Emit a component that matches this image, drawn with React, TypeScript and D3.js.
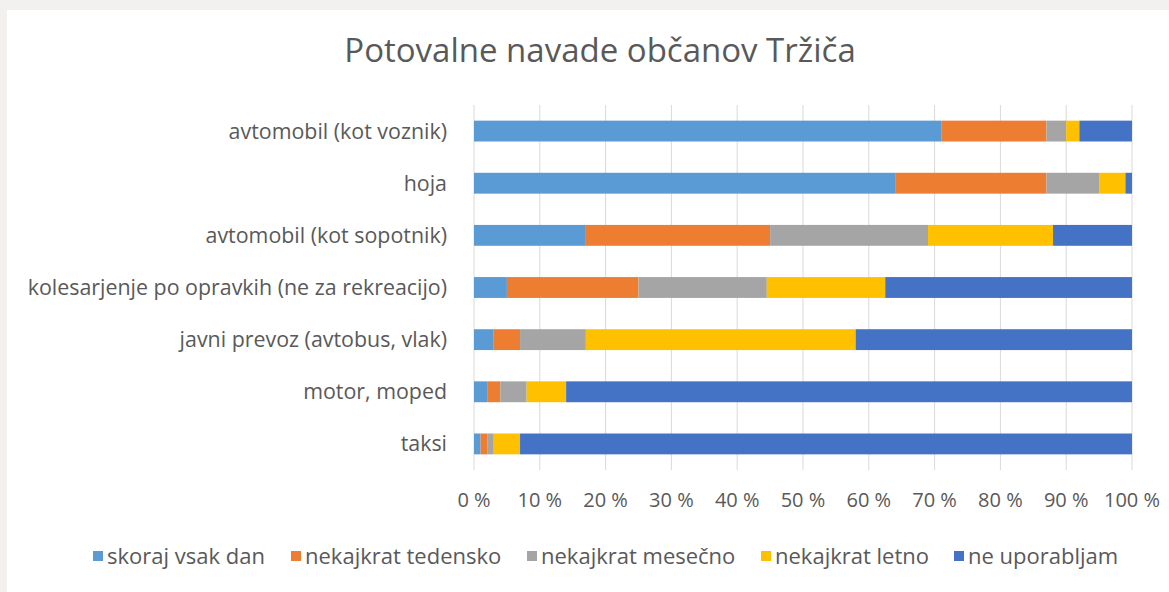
import React from "react";
import * as d3 from "d3";

const categories = [
  "avtomobil (kot voznik)",
  "hoja",
  "avtomobil (kot sopotnik)",
  "kolesarjenje po opravkih (ne za rekreacijo)",
  "javni prevoz (avtobus, vlak)",
  "motor, moped",
  "taksi",
];

const seriesNames = [
  "skoraj vsak dan",
  "nekajkrat tedensko",
  "nekajkrat mesečno",
  "nekajkrat letno",
  "ne uporabljam",
];

// percentages per category, same order as seriesNames
const skorajVsakDan = [71, 64, 17, 5, 3, 2, 1];
const nekajkratTedensko = [16, 23, 28, 20, 4, 2, 1];
const nekajkratMesecno = [3, 8, 24, 19.5, 10, 4, 1];
const nekajkratLetno = [2, 4, 19, 18, 41, 6, 4];
const neUporabljam = [8, 1, 12, 37.5, 42, 86, 93];

const tickValues = [0, 10, 20, 30, 40, 50, 60, 70, 80, 90, 100];

const colors = ["#5b9bd5", "#ed7d31", "#a5a5a5", "#ffc000", "#4472c4"];

const W = 1169;
const H = 592;
const font = "'Open Sans', 'DejaVu Sans', sans-serif";
const textColor = "#595959";

export default function App() {
  const margin = { left: 474, right: 37, top: 105, bottom: 122 };

  const rows = categories.map((c, i) => ({
    name: c,
    [seriesNames[0]]: skorajVsakDan[i],
    [seriesNames[1]]: nekajkratTedensko[i],
    [seriesNames[2]]: nekajkratMesecno[i],
    [seriesNames[3]]: nekajkratLetno[i],
    [seriesNames[4]]: neUporabljam[i],
  }));

  const stack = d3.stack<any>().keys(seriesNames);
  const layers = stack(rows);

  const x = d3
    .scaleLinear()
    .domain([0, 100])
    .range([margin.left, W - margin.right]);

  const y = d3
    .scaleBand()
    .domain(categories)
    .range([margin.top, H - margin.bottom])
    .paddingInner(0.6)
    .paddingOuter(0.3);

  const color = d3.scaleOrdinal<string, string>().domain(seriesNames).range(colors);

  // legend layout (x of each swatch)
  const legendX = [93, 291, 527, 761, 954];
  const legendY = 556;

  return (
    <div style={{ position: "absolute", left: 0, top: 0 }}>
      <svg width={W} height={H} style={{ display: "block" }}>
        <rect x={0} y={0} width={W} height={H} fill="#f2f1ef" />
        <rect x={7} y={10} width={W - 7} height={H - 10} fill="#ffffff" />

        <text
          x={600}
          y={62}
          textAnchor="middle"
          fontFamily={font}
          fontSize={33}
          fill={textColor}
        >
          Potovalne navade občanov Tržiča
        </text>

        {/* gridlines */}
        {tickValues.map((t) => (
          <line
            key={t}
            x1={x(t)}
            x2={x(t)}
            y1={margin.top}
            y2={H - margin.bottom}
            stroke="#d9d9d9"
            strokeWidth={1}
          />
        ))}

        {/* bars */}
        {layers.map((layer) => (
          <g key={layer.key} fill={color(layer.key)}>
            {layer.map((d: any) => (
              <rect
                key={d.data.name}
                x={x(d[0])}
                y={y(d.data.name)}
                width={Math.max(0, x(d[1]) - x(d[0]))}
                height={y.bandwidth()}
              />
            ))}
          </g>
        ))}

        {/* category labels */}
        {categories.map((c) => (
          <text
            key={c}
            x={margin.left - 27}
            y={(y(c) as number) + y.bandwidth() / 2}
            dy="0.35em"
            textAnchor="end"
            fontFamily={font}
            fontSize={21.4}
            fill={textColor}
          >
            {c}
          </text>
        ))}

        {/* x tick labels */}
        {tickValues.map((t) => (
          <text
            key={t}
            x={x(t)}
            y={H - margin.bottom + 37}
            textAnchor="middle"
            fontFamily={font}
            fontSize={20}
            fill={textColor}
          >
            {`${t} %`}
          </text>
        ))}

        {/* legend */}
        {seriesNames.map((s, i) => (
          <g key={s} transform={`translate(${legendX[i]},${legendY})`}>
            <rect x={0} y={-5} width={10} height={10} fill={color(s)} />
            <text
              x={14}
              y={0}
              dy="0.35em"
              fontFamily={font}
              fontSize={22}
              fill={textColor}
            >
              {s}
            </text>
          </g>
        ))}
      </svg>
    </div>
  );
}
